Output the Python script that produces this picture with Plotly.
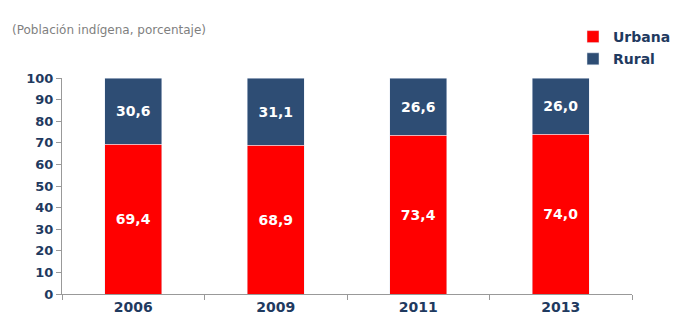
import plotly.graph_objects as go

years = ["2006", "2009", "2011", "2013"]
urbana = [69.4, 68.9, 73.4, 74.0]
rural = [30.6, 31.1, 26.6, 26.0]
y_ticks = [0, 10, 20, 30, 40, 50, 60, 70, 80, 90, 100]

def fmt(v):
    return f"{v:.1f}".replace(".", ",")

font_fam = "DejaVu Sans"
navy = "#1F3A5F"

W, H = 673, 312
L, T, R, B = 54, 70, 49, 26
PW, PH = W - L - R, H - T - B

fig = go.Figure()
fig.add_trace(go.Bar(x=years, y=urbana, name="Urbana", marker_color="#FF0000",
                     legendgroup="u",
                     text=[fmt(v) for v in urbana], textposition="inside",
                     insidetextanchor="middle",
                     textfont=dict(color="white", size=14, family=font_fam, weight="bold")))
fig.add_trace(go.Bar(x=years, y=rural, name="Rural", marker_color="#2E4D74",
                     legendgroup="r",
                     text=[fmt(v) for v in rural], textposition="inside",
                     insidetextanchor="middle",
                     textfont=dict(color="white", size=14, family=font_fam, weight="bold")))

fig.update_layout(
    barmode="stack", bargap=0.6,
    width=W, height=H,
    margin=dict(l=L, r=R, t=T, b=B, autoexpand=False),
    plot_bgcolor="white", paper_bgcolor="white",
    showlegend=True,
    legend=dict(x=565 / W, y=1 - 13 / H, xref="container", yref="container",
                xanchor="left", yanchor="top",
                font=dict(family=font_fam, size=14, color=navy, weight="bold"),
                itemwidth=30, tracegroupgap=1, traceorder="grouped",
                bgcolor="rgba(0,0,0,0)"),
    uniformtext=dict(minsize=8, mode="show"),
    annotations=[dict(text="(Población indígena, porcentaje)",
                      x=(2 - L) / PW, y=1 + (T - 22) / PH,
                      xref="paper", yref="paper", xanchor="left", yanchor="middle",
                      showarrow=False, font=dict(family=font_fam, size=12, color="#7F7F7F"))],
)

fig.update_yaxes(range=[0, 100], tickvals=y_ticks, ticks="outside", ticklen=5, tickcolor="#999999",
                 showline=True, linecolor="#999999", showgrid=False, zeroline=False,
                 automargin=False,
                 tickfont=dict(family=font_fam, size=13, color=navy, weight="bold"))
fig.update_xaxes(ticks="outside", tickson="boundaries", ticklen=5, tickcolor="#999999",
                 showline=True, linecolor="#999999", showgrid=False, automargin=False,
                 tickfont=dict(family=font_fam, size=14, color=navy, weight="bold"))

fig.write_html("out.html")
